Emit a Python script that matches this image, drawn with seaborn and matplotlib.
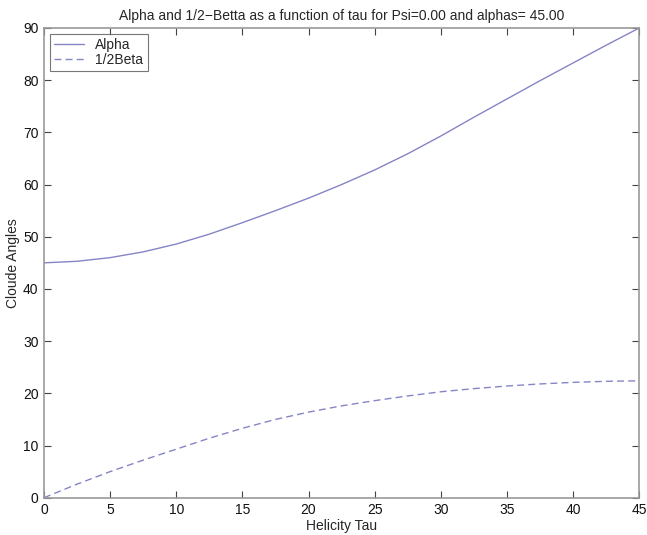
import numpy as np
import pandas as pd
import seaborn as sns
import matplotlib
matplotlib.use("Agg")
import matplotlib.pyplot as plt

## Data ##
tau = [0, 2.5, 5, 7.5, 10, 12.5, 15, 17.5, 20, 22.5, 25, 27.5, 30, 32.5, 35, 37.5, 40, 42.5, 45]
alpha = [45.0, 45.3, 46.0, 47.1, 48.6, 50.5, 52.7, 55.0, 57.4, 60.0, 62.8, 65.9, 69.3, 72.9, 76.4, 79.9, 83.3, 86.7, 90.0]
half_beta = [0.0, 2.6, 5.0, 7.2, 9.3, 11.4, 13.3, 15.0, 16.4, 17.6, 18.6, 19.5, 20.3, 20.9, 21.4, 21.8, 22.1, 22.3, 22.4]

x_ticks = list(range(0, 46, 5))
y_ticks = list(range(0, 91, 10))
line_color = "#8585c6"

sns.set_style("ticks")
plt.rcParams['font.family'] = ['Liberation Sans', 'DejaVu Sans']

df = pd.DataFrame({"tau": tau, "Alpha": alpha, "1/2Beta": half_beta})

fig = plt.figure(figsize=(6.47, 5.35), dpi=100)
ax = fig.add_axes([0.068, 0.0697, 0.920, 0.878])

sns.lineplot(data=df, x="tau", y="Alpha", ax=ax, color=line_color, lw=1.0, label="Alpha")
sns.lineplot(data=df, x="tau", y="1/2Beta", ax=ax, color=line_color, lw=1.0,
             linestyle=(0, (5, 3)), label="1/2Beta")

ax.set_xlim(0, 45)
ax.set_ylim(0, 90)
ax.set_xticks(x_ticks)
ax.set_yticks(y_ticks)
ax.tick_params(direction="in", length=5, width=0.8, color="#444444", labelsize=10,
               labelcolor="#111111", top=True, right=True, pad=4)
for s in ax.spines.values():
    s.set_color("#999999")
    s.set_linewidth(1.2)

ax.set_title("Alpha and 1/2\u2212Betta as a function of tau for Psi=0.00 and alphas= 45.00",
             fontsize=10, pad=6)
ax.set_xlabel("Helicity Tau", fontsize=10, labelpad=1)
ax.set_ylabel("Cloude Angles", fontsize=10, labelpad=2)

leg = ax.legend(loc="upper left", fontsize=10, frameon=True, fancybox=False,
                borderaxespad=0.4, handlelength=2.2, borderpad=0.3, labelspacing=0.1)
leg.get_frame().set_edgecolor("#555555")
leg.get_frame().set_linewidth(0.8)

plt.savefig("out.png", dpi=100)
